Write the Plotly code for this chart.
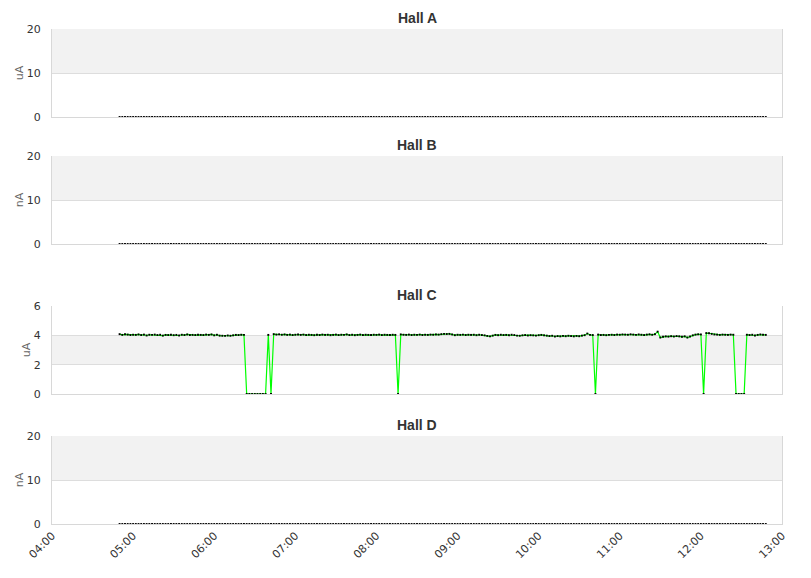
import pandas as pd
import plotly.graph_objects as go

# ---------------- data ----------------
times = pd.date_range("2024-01-01 04:50", periods=240, freq="2min")

hall_a = [0.0] * 240
hall_b = [0.0] * 240
hall_d = [0.0] * 240

hall_c = [
    # 0-46
    4.08, 4.03, 4.07, 4.05, 4.02, 4.04, 4.03, 4.06, 4.02, 4.05,
    3.99, 4.04, 4.03, 4.05, 4.02, 4.04, 3.98, 4.03, 4.02, 4.04,
    4.01, 4.03, 3.99, 4.04, 4.02, 4.06, 4.02, 4.03, 4.02, 4.04,
    4.03, 4.02, 4.05, 4.03, 4.06, 4.00, 4.04, 3.98, 3.97, 3.96,
    3.99, 3.97, 4.00, 4.03, 4.02, 4.04, 4.03,
    # 47-56 dropout
    0, 0, 0, 0, 0, 0, 0, 0, 4.03, 0,
    # 57-102
    4.08, 4.05, 4.07, 4.04, 4.06, 4.03, 4.05, 4.02, 4.04, 4.06,
    4.03, 4.05, 4.02, 4.04, 4.03, 4.01, 4.04, 4.02, 4.05, 4.03,
    4.04, 4.01, 4.03, 4.05, 4.02, 4.04, 4.03, 4.06, 4.02, 4.04,
    4.01, 4.03, 4.05, 4.02, 4.04, 4.03, 4.02, 4.04, 4.03, 4.05,
    4.02, 4.04, 4.03, 4.02, 4.04, 4.03,
    # 103
    0,
    # 104-175
    4.06, 4.04, 4.03, 4.05, 4.02, 4.04, 4.03, 4.05, 4.02, 4.04,
    4.03, 4.05, 4.04, 4.06, 4.05, 4.08, 4.10, 4.09, 4.10, 4.06,
    4.01, 4.04, 4.03, 4.05, 4.02, 4.04, 4.03, 4.04, 4.01, 4.04,
    4.02, 4.00, 3.96, 3.93, 3.98, 4.03, 4.01, 4.04, 4.02, 4.03,
    4.01, 4.04, 4.02, 3.98, 3.97, 4.00, 4.02, 3.99, 4.01, 4.00,
    3.98, 4.01, 4.03, 4.00, 3.98, 3.95, 3.97, 3.92, 3.95, 3.93,
    3.96, 3.94, 3.97, 3.95, 3.93, 3.96, 3.94, 3.98, 4.01, 4.12,
    4.03, 4.02,
    # 176
    0,
    # 177-215
    4.05, 4.02, 4.03, 4.01, 4.03, 4.04, 4.02, 4.05, 4.04, 4.06,
    4.05, 4.04, 4.07, 4.05, 4.03, 4.06, 4.04, 4.02, 4.05, 4.07,
    4.04, 4.08, 4.25, 3.85, 3.90, 3.93, 3.91, 3.94, 3.92, 3.95,
    3.93, 3.90, 3.93, 3.85, 3.92, 4.00, 4.05, 4.07, 4.06,
    # 216
    0,
    # 217-227
    4.15, 4.14, 4.10, 4.06, 4.05, 4.03, 4.05, 4.04, 4.03, 4.05,
    4.04,
    # 228-231
    0, 0, 0, 0,
    # 232-239
    4.04, 4.02, 4.04, 3.99, 4.03, 4.06, 4.04, 4.03,
]

panels = [
    ("Hall A", "uA", hall_a, [0, 10, 20], False),
    ("Hall B", "nA", hall_b, [0, 10, 20], False),
    ("Hall C", "uA", hall_c, [0, 2, 4, 6], True),
    ("Hall D", "nA", hall_d, [0, 10, 20], False),
]

# ---------------- layout helpers ----------------
# page body has an 8px margin, so the figure is 16px smaller than the window
OFF = 8
W, H = 811 - 2 * OFF, 578 - 2 * OFF
x_left, x_right = 52 - OFF, 782 - OFF
panel_px = [(29, 117, 18), (156, 244, 145), (306, 394, 295), (436, 524, 425)]

fig = go.Figure()
shapes = []
annotations = []
layout = dict(
    width=W, height=H,
    autosize=False,
    margin=dict(l=0, r=0, t=0, b=0, autoexpand=False),
    paper_bgcolor="white", plot_bgcolor="white",
    showlegend=False,
    font=dict(family="DejaVu Sans", size=11, color="#333333"),
)

for k, (title, unit, vals, ticks, with_line) in enumerate(panels):
    n = k + 1
    xa = "x" if n == 1 else f"x{n}"
    ya = "y" if n == 1 else f"y{n}"
    top, bot, ty = [v - OFF for v in panel_px[k]]
    ydom = [1 - bot / H, 1 - top / H]

    fig.add_trace(go.Scatter(
        x=times, y=vals, xaxis=xa, yaxis=ya,
        mode="lines+markers" if with_line else "markers",
        line=dict(color="#00ff00", width=1.2),
        marker=dict(color="black", size=1.9, symbol="square"),
        hoverinfo="x+y",
    ))

    layout["xaxis" if n == 1 else f"xaxis{n}"] = dict(
        domain=[x_left / W, x_right / W],
        anchor=ya,
        type="date",
        range=["2024-01-01 04:00", "2024-01-01 13:00"],
        dtick=3600000,
        tick0="2024-01-01 04:00",
        tickformat="%H:%M",
        showticklabels=(n == 4),
        tickangle=-45,
        tickfont=dict(family="DejaVu Sans", size=11, color="#333333"),
        showgrid=False,
        showline=True, linecolor="#d8d8d8", linewidth=1,
        ticks="", zeroline=False, automargin=False,
        matches=None if n == 1 else "x",
    )
    layout["yaxis" if n == 1 else f"yaxis{n}"] = dict(
        domain=ydom,
        anchor=xa,
        range=[ticks[0], ticks[-1]],
        tickvals=ticks,
        showgrid=True, gridcolor="#dddddd", gridwidth=1,
        showline=True, linecolor="#d8d8d8", linewidth=1, mirror=True,
        zeroline=False, ticks="", automargin=False,
        ticklabelstandoff=8,
        tickfont=dict(family="DejaVu Sans", size=11, color="#333333"),
        title=dict(text=unit, font=dict(family="DejaVu Sans", size=11, color="#666666"), standoff=0),
    )

    # alternating bands: every second band is shaded
    for j in range(1, len(ticks) - 1, 2):
        shapes.append(dict(
            type="rect", xref=f"{xa} domain", yref=ya,
            x0=0, x1=1, y0=ticks[j], y1=ticks[j + 1],
            fillcolor="#f2f2f2", line=dict(width=0), layer="below",
        ))

    annotations.append(dict(
        text=f"<b>{title}</b>", xref="paper", yref="paper",
        x=(x_left + x_right) / 2 / W, y=1 - ty / H,
        xanchor="center", yanchor="middle", showarrow=False,
        font=dict(family="Liberation Sans", size=14, color="#333333"),
    ))

layout["shapes"] = shapes
layout["annotations"] = annotations
fig.update_layout(**layout)

fig.write_html("out.html", config={"responsive": False})
